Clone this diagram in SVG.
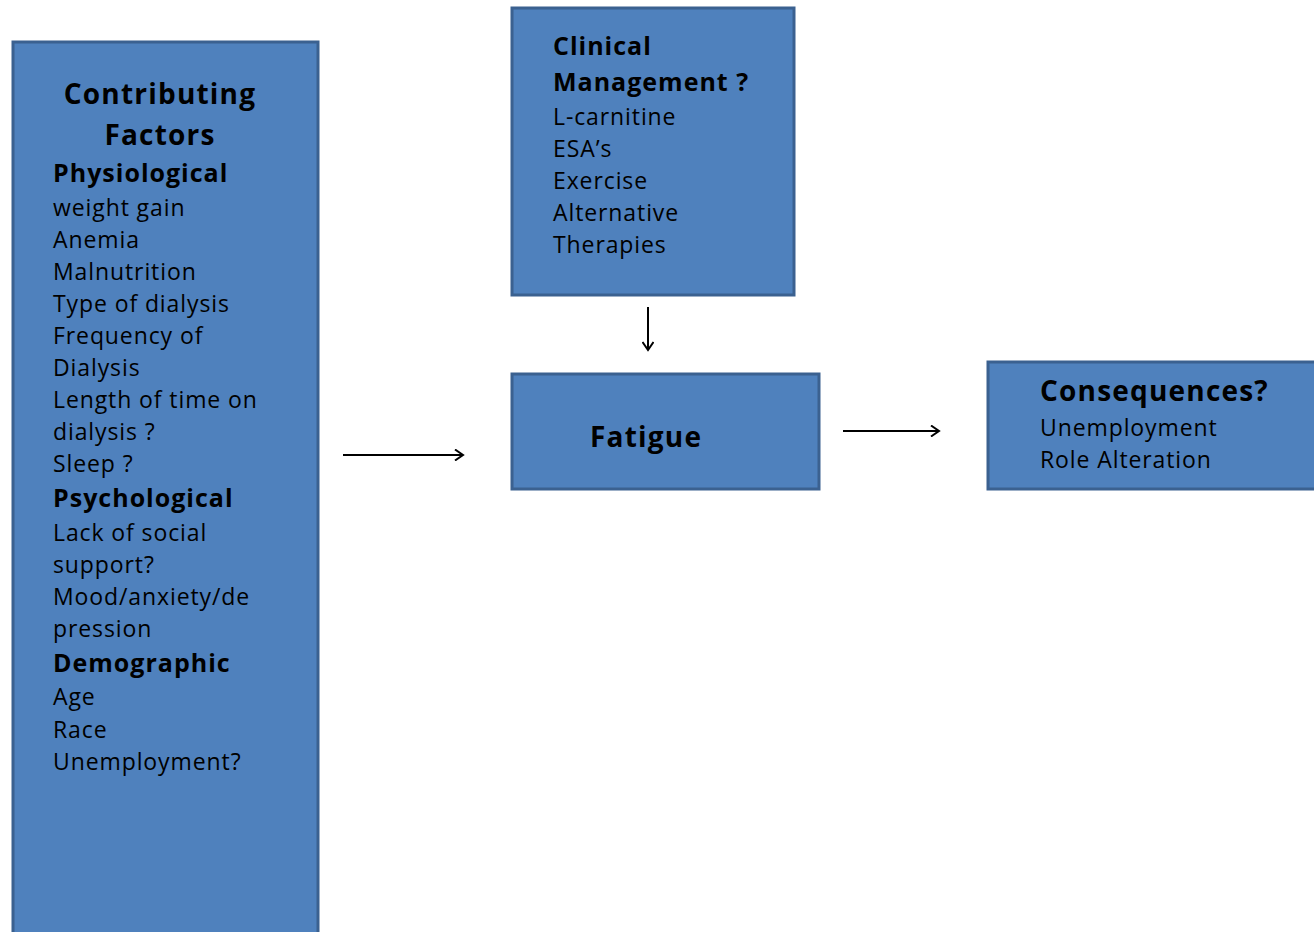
<svg xmlns="http://www.w3.org/2000/svg" width="1314" height="932" viewBox="0 0 1314 932">
<style>
.box{fill:#4f81bd;stroke:#3b6190;stroke-width:3}
text{font-family:"Open Sans",Lato,"Liberation Sans",sans-serif;fill:#000}
.t{font-size:23px;letter-spacing:0.9px}
.h{font-size:28px;font-weight:bold;letter-spacing:1.2px}
.s{font-size:25px;font-weight:bold;letter-spacing:1px}
.c{stroke:#000;stroke-width:2;fill:none}
</style>
<defs>
<marker id="a" markerWidth="12" markerHeight="12" refX="10" refY="6" orient="auto" markerUnits="userSpaceOnUse">
<path d="M2,0.5 L10,6 L2,11.5" fill="none" stroke="#000" stroke-width="2"/>
</marker>
</defs>
<g id="contributing">
<rect class="box" x="13" y="42" width="305" height="900"/>
<text class="h" x="160" y="104" text-anchor="middle">Contributing</text>
<text class="h" x="160" y="145" text-anchor="middle">Factors</text>
<text class="s" x="53" y="182">Physiological</text>
<text class="t" x="53" y="216">weight gain</text>
<text class="t" x="53" y="248">Anemia</text>
<text class="t" x="53" y="280">Malnutrition</text>
<text class="t" x="53" y="312">Type of dialysis</text>
<text class="t" x="53" y="344">Frequency of</text>
<text class="t" x="53" y="376">Dialysis</text>
<text class="t" x="53" y="408">Length of time on</text>
<text class="t" x="53" y="440">dialysis ?</text>
<text class="t" x="53" y="472">Sleep ?</text>
<text class="s" x="53" y="507">Psychological</text>
<text class="t" x="53" y="541">Lack of social</text>
<text class="t" x="53" y="573">support?</text>
<text class="t" x="53" y="605">Mood/anxiety/de</text>
<text class="t" x="53" y="637">pression</text>
<text class="s" x="53" y="672">Demographic</text>
<text class="t" x="53" y="705">Age</text>
<text class="t" x="53" y="738">Race</text>
<text class="t" x="53" y="770">Unemployment?</text>
</g>
<g id="clinical">
<rect class="box" x="512" y="8" width="282" height="287"/>
<text class="s" x="553" y="55">Clinical</text>
<text class="s" x="553" y="91">Management ?</text>
<text class="t" x="553" y="125">L-carnitine</text>
<text class="t" x="553" y="157">ESA’s</text>
<text class="t" x="553" y="189">Exercise</text>
<text class="t" x="553" y="221">Alternative</text>
<text class="t" x="553" y="253">Therapies</text>
</g>
<g id="fatigue">
<rect class="box" x="512" y="374" width="307" height="115"/>
<text class="h" x="590" y="447">Fatigue</text>
</g>
<g id="consequences">
<rect class="box" x="988" y="362" width="340" height="127"/>
<text class="h" x="1040" y="401">Consequences?</text>
<text class="t" x="1040" y="436">Unemployment</text>
<text class="t" x="1040" y="468">Role Alteration</text>
</g>
<g id="connectors">
<line class="c" x1="343" y1="455" x2="463" y2="455" marker-end="url(#a)"/>
<line class="c" x1="648" y1="307" x2="648" y2="350" marker-end="url(#a)"/>
<line class="c" x1="843" y1="431" x2="939" y2="431" marker-end="url(#a)"/>
</g>
</svg>
